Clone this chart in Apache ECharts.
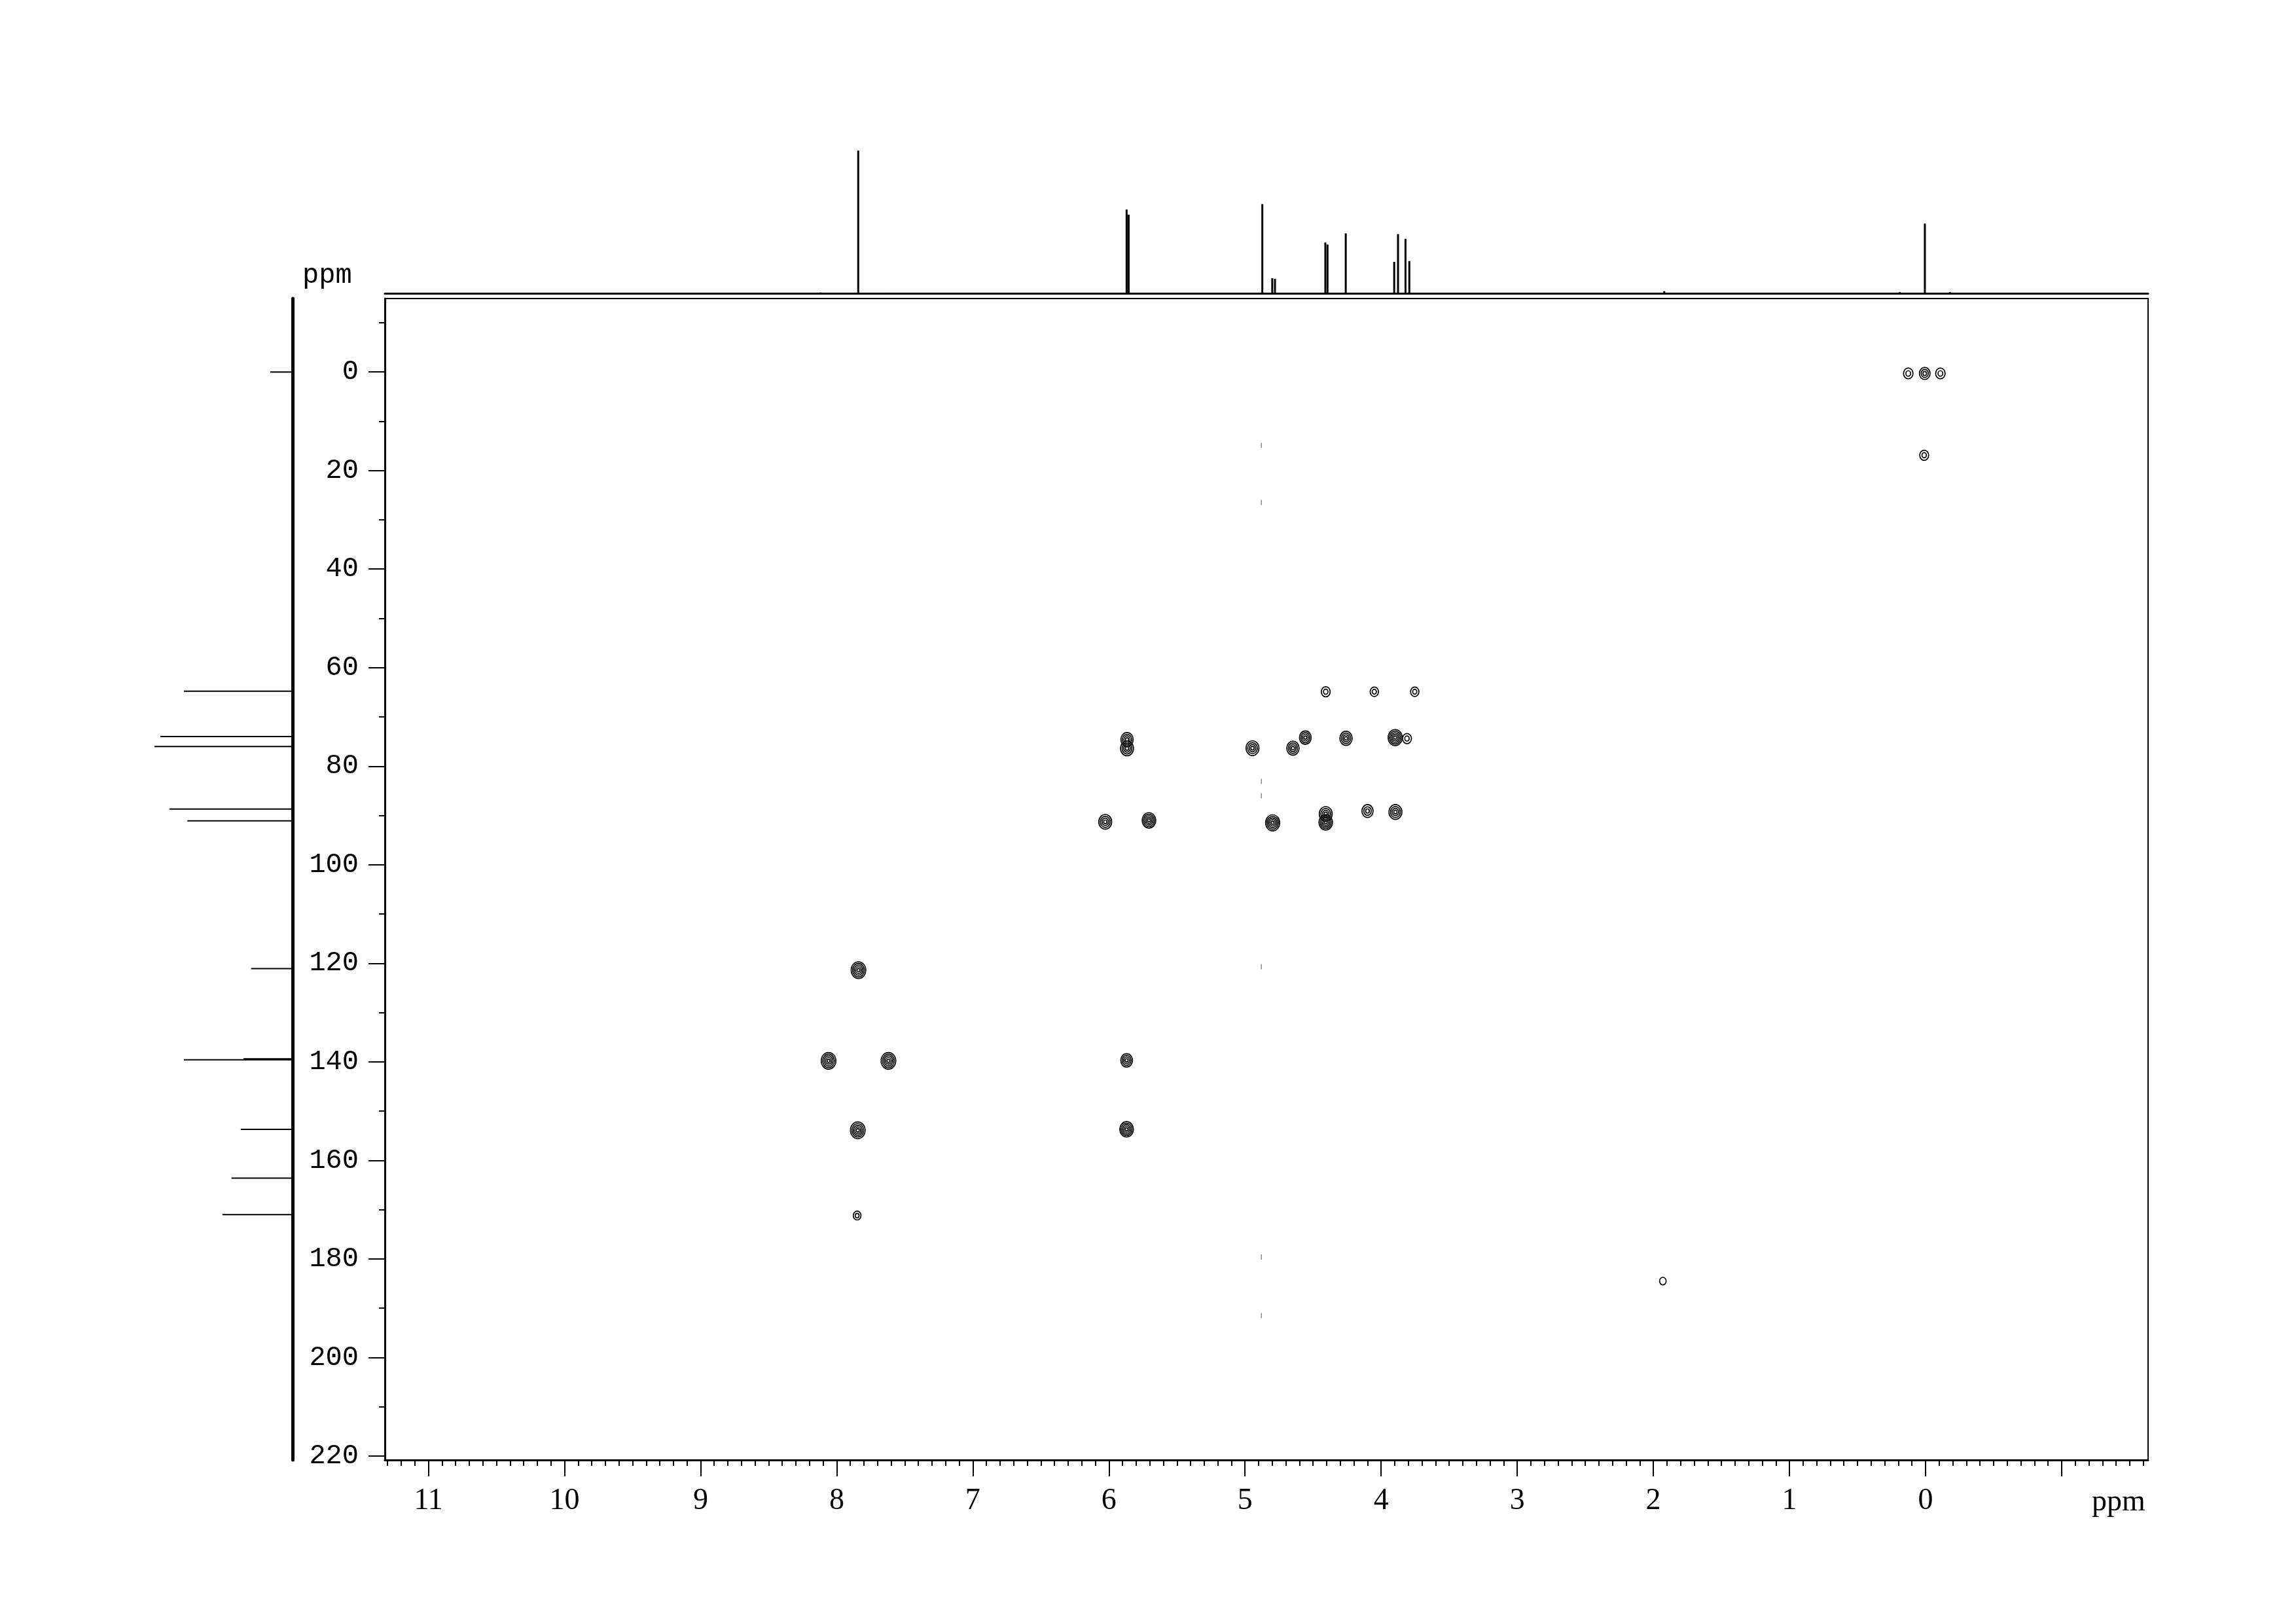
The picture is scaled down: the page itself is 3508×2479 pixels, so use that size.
<!DOCTYPE html>
<html>
<head>
<meta charset="utf-8">
<script src="https://cdn.jsdelivr.net/npm/echarts@6/dist/echarts.min.js"></script>
<style>
html, body { margin: 0; background: #fff; }
#chart { width: 3508px; height: 2479px; }
</style>
</head>
<body>
<div id="chart"></div>
<script>
// 1H projection (top trace), shift in ppm and relative height
var protonShift = [8.12, 7.842, 7.63, 5.870, 5.855, 4.873, 4.80, 4.78, 4.410, 4.394, 4.26, 3.904, 3.876, 3.821, 3.793, 1.92, 0.19, 0.005, -0.18];
var protonHeight = [0.6, 100, 0.5, 58.7, 55.1, 62.5, 10.5, 10.2, 35.6, 34.2, 42.0, 22.0, 41.5, 38.2, 22.6, 1.5, 0.8, 48.9, 0.8];

// 13C projection (left trace)
var carbonShift = [0.0, 64.8, 74.0, 76.0, 88.7, 91.1, 121.1, 139.4, 139.6, 153.7, 163.6, 171.0];
var carbonHeight = [16.2, 78.7, 95.7, 100, 89.1, 76.2, 30.0, 35.5, 78.7, 37.5, 44.2, 50.8];

// cross peaks: 1H shift, 13C shift, relative level
var crossH = [0.127, 0.006, -0.109, 0.01, 4.407, 4.05, 3.753, 4.557, 4.258, 3.897, 3.81, 4.945, 4.648, 5.867, 5.867,
  4.797, 4.407, 4.407, 4.10, 3.895, 6.027, 5.706, 7.84, 8.06, 7.62, 5.87, 7.845, 5.87, 7.85, 1.93];
var crossC = [0.3, 0.3, 0.3, 16.9, 64.9, 64.9, 64.9, 74.2, 74.35, 74.2, 74.4, 76.35, 76.35, 74.6, 76.4,
  91.5, 89.7, 91.4, 89.1, 89.3, 91.3, 91.0, 121.4, 139.8, 139.8, 139.7, 153.9, 153.7, 171.2, 184.5];
var crossLevel = [0.4, 0.5, 0.4, 0.35, 0.35, 0.3, 0.3, 0.6, 0.65, 0.8, 0.35, 0.7, 0.65, 0.65, 0.7,
  0.8, 0.7, 0.75, 0.55, 0.7, 0.7, 0.75, 0.85, 0.85, 0.85, 0.6, 0.85, 0.75, 0.25, 0.15];

// faint t1 streak marks at the 4.88 ppm column
var streakH = [4.88, 4.88, 4.88, 4.88, 4.88, 4.88, 4.88];
var streakC = [14.9, 26.5, 83.1, 86.0, 120.7, 179.6, 191.5];

// ticks
var hMajor = [11, 10, 9, 8, 7, 6, 5, 4, 3, 2, 1, 0, -1];
var hLabels = [11, 10, 9, 8, 7, 6, 5, 4, 3, 2, 1, 0];
var cMajor = [0, 20, 40, 60, 80, 100, 120, 140, 160, 180, 200, 220];
var cMinor = [-10, 10, 30, 50, 70, 90, 110, 130, 150, 170, 190, 210];
var hMinor = [];
for (var i = -16; i <= 113; i++) {
  if (i % 10 !== 0) hMinor.push(i / 10);
}

var hRange = [-1.635, 11.32];
var cRange = [-14.9, 220.8];

var mainGrid = { left: 588, right: 226, top: 456, bottom: 249 };

var chart = echarts.init(document.getElementById('chart'), null, { renderer: 'canvas' });

// draws a peak as nested contour rings
function contourItem(params, api) {
  var c = api.coord([api.value(0), api.value(1)]);
  var lv = api.value(2);
  var base = api.size([0.06, 1.9]);
  var rx = Math.abs(base[0]) * (0.3 + 0.7 * lv);
  var ry = Math.abs(base[1]) * (0.3 + 0.7 * lv);
  var n = Math.max(1, Math.round(lv * 6));
  var kids = [];
  for (var k = n; k >= 1; k--) {
    kids.push({
      type: 'ellipse',
      shape: { cx: c[0], cy: c[1], rx: rx * k / n, ry: ry * k / n },
      style: { fill: 'none', stroke: '#000', lineWidth: 1.7 }
    });
  }
  return { type: 'group', children: kids };
}

var option = {
  backgroundColor: '#fff',
  animation: false,
  grid: [
    { left: mainGrid.left, right: mainGrid.right, top: mainGrid.top, bottom: mainGrid.bottom,
      show: true, borderColor: '#000', borderWidth: 2, outerBoundsMode: 'none' },
    { left: 588, right: 226, top: 230, bottom: 2031, outerBoundsMode: 'none' },
    { left: 236, right: 3061, top: 456, bottom: 249, outerBoundsMode: 'none' },
    { left: mainGrid.left, right: mainGrid.right, top: mainGrid.top, bottom: mainGrid.bottom, outerBoundsMode: 'none' }
  ],
  xAxis: [
    {
      gridIndex: 0, type: 'value', min: hRange[0], max: hRange[1], inverse: true, position: 'bottom',
      axisLine: { show: true, onZero: false, lineStyle: { color: '#000', width: 3 } },
      axisTick: { show: true, customValues: hMajor, length: 25, lineStyle: { color: '#000', width: 2 } },
      axisLabel: { customValues: hLabels, margin: 40, color: '#000', fontFamily: 'Liberation Serif', fontSize: 46 },
      splitLine: { show: false }
    },
    {
      gridIndex: 1, type: 'value', min: hRange[0], max: hRange[1], inverse: true, position: 'bottom',
      axisLine: { show: true, onZero: false, lineStyle: { color: '#000', width: 3 } },
      axisTick: { show: false }, axisLabel: { show: false }, splitLine: { show: false }
    },
    {
      gridIndex: 2, type: 'value', min: 0, max: 100, inverse: true, show: false,
      axisLine: { onZero: false }
    },
    {
      gridIndex: 3, type: 'value', min: hRange[0], max: hRange[1], inverse: true, position: 'bottom',
      axisLine: { show: false, onZero: false },
      axisTick: { show: true, customValues: hMinor, length: 9, lineStyle: { color: '#000', width: 2 } },
      axisLabel: { show: false }, splitLine: { show: false }
    }
  ],
  yAxis: [
    {
      gridIndex: 0, type: 'value', min: cRange[0], max: cRange[1], inverse: true, position: 'left',
      axisLine: { show: true, onZero: false, lineStyle: { color: '#000', width: 3 } },
      axisTick: { show: true, customValues: cMajor, length: 25, lineStyle: { color: '#000', width: 2 } },
      axisLabel: { customValues: cMajor, margin: 40, color: '#000', fontFamily: 'Liberation Mono', fontSize: 42 },
      splitLine: { show: false }
    },
    {
      gridIndex: 1, type: 'value', min: 0, max: 100, show: false,
      axisLine: { onZero: false }
    },
    {
      gridIndex: 2, type: 'value', min: cRange[0], max: cRange[1], inverse: true, position: 'right',
      axisLine: { show: true, onZero: false, lineStyle: { color: '#000', width: 5 } },
      axisTick: { show: false }, axisLabel: { show: false }, splitLine: { show: false }
    },
    {
      gridIndex: 3, type: 'value', min: cRange[0], max: cRange[1], inverse: true, position: 'left',
      axisLine: { show: false, onZero: false },
      axisTick: { show: true, customValues: cMinor, length: 9, lineStyle: { color: '#000', width: 2 } },
      axisLabel: { show: false }, splitLine: { show: false }
    }
  ],
  graphic: [
    { type: 'text', left: 462, top: 400, style: { text: 'ppm', fill: '#000', font: '42px "Liberation Mono"' } },
    { type: 'text', left: 3196, top: 2272, style: { text: 'ppm', fill: '#000', font: '46px "Liberation Serif"' } }
  ],
  series: [
    {
      name: 'streaks', type: 'custom', xAxisIndex: 0, yAxisIndex: 0,
      data: streakH.map(function (h, i) { return [h, streakC[i]]; }),
      renderItem: function (params, api) {
        var p = api.coord([api.value(0), api.value(1)]);
        return { type: 'line', shape: { x1: p[0], y1: p[1] - 4, x2: p[0], y2: p[1] + 4 },
          style: { stroke: '#888', lineWidth: 1.5 } };
      }
    },
    {
      name: 'cross', type: 'custom', xAxisIndex: 0, yAxisIndex: 0,
      data: crossH.map(function (h, i) { return [h, crossC[i], crossLevel[i]]; }),
      renderItem: contourItem
    },
    {
      name: '1H', type: 'custom', xAxisIndex: 1, yAxisIndex: 1,
      data: protonShift.map(function (s, i) { return [s, protonHeight[i]]; }),
      renderItem: function (params, api) {
        var top = api.coord([api.value(0), api.value(1)]);
        var bot = api.coord([api.value(0), 0]);
        return { type: 'line', shape: { x1: top[0], y1: top[1], x2: bot[0], y2: bot[1] },
          style: { stroke: '#000', lineWidth: 3 } };
      }
    },
    {
      name: '13C', type: 'custom', xAxisIndex: 2, yAxisIndex: 2,
      data: carbonShift.map(function (s, i) { return [carbonHeight[i], s]; }),
      renderItem: function (params, api) {
        var tip = api.coord([api.value(0), api.value(1)]);
        var base = api.coord([0, api.value(1)]);
        return { type: 'line', shape: { x1: tip[0], y1: tip[1], x2: base[0], y2: base[1] },
          style: { stroke: '#000', lineWidth: 2 } };
      }
    }
  ]
};

chart.setOption(option);
</script>
</body>
</html>
